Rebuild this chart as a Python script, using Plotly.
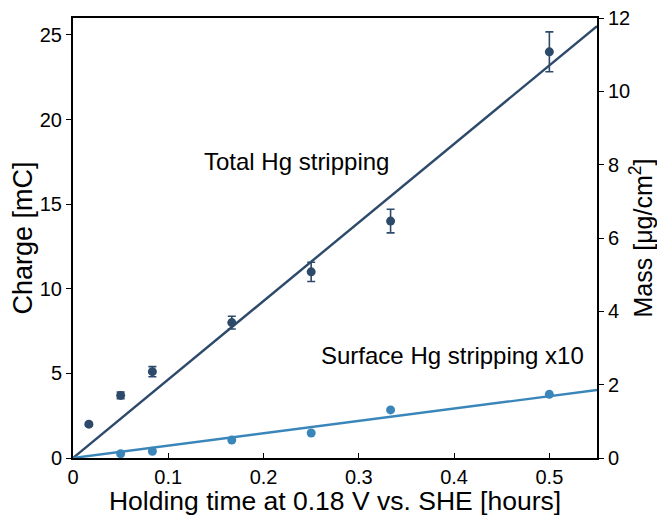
import plotly.graph_objects as go

time_h = [1/60, 0.05, 1/12, 1/6, 0.25, 1/3, 0.5]
total_charge = [2.0, 3.7, 5.1, 8.0, 11.0, 14.0, 24.0]
total_err = [0.1, 0.2, 0.3, 0.38, 0.57, 0.7, 1.18]
surf_time = [0.05, 1/12, 1/6, 0.25, 1/3, 0.5]
surface_charge = [0.25, 0.4, 1.06, 1.48, 2.84, 3.76]
total_slope = 46.4
surface_slope = 7.3
fit_x = [0, 0.55]

dark = '#2e4a6b'
light = '#3a86ba'
font = 'Liberation Sans, Arial, sans-serif'

fig = go.Figure()
fig.add_trace(go.Scatter(x=fit_x, y=[total_slope * v for v in fit_x], mode='lines',
                         line=dict(color=dark, width=2.4), showlegend=False, cliponaxis=False))
fig.add_trace(go.Scatter(x=fit_x, y=[surface_slope * v for v in fit_x], mode='lines',
                         line=dict(color=light, width=2.4), showlegend=False, cliponaxis=False))
fig.add_trace(go.Scatter(x=time_h, y=total_charge, mode='markers',
                         marker=dict(color=dark, size=9),
                         error_y=dict(type='data', array=total_err, color=dark, thickness=1.6, width=4),
                         showlegend=False))
fig.add_trace(go.Scatter(x=surf_time, y=surface_charge, mode='markers',
                         marker=dict(color=light, size=9), showlegend=False))
# invisible trace for right axis
fig.add_trace(go.Scatter(x=[0], y=[0], yaxis='y2', mode='markers',
                         marker=dict(opacity=0), showlegend=False, hoverinfo='skip'))

fig.add_annotation(x=0.2346, y=17.5, text='Total Hg stripping', showarrow=False,
                   font=dict(size=24, color='black', family=font))
fig.add_annotation(x=0.398, y=6.03, text='Surface Hg stripping x10', showarrow=False,
                   font=dict(size=24, color='black', family=font))

fig.update_layout(
    width=657, height=508,
    margin=dict(l=65, r=68, t=10, b=58),
    plot_bgcolor='white', paper_bgcolor='white',
    font=dict(family=font, color='black', size=20),
    xaxis=dict(range=[0, 0.55], tickvals=[0, 0.1, 0.2, 0.3, 0.4, 0.5],
               ticktext=['0', '0.1', '0.2', '0.3', '0.4', '0.5'],
               ticks='inside', ticklen=5, tickwidth=1, tickcolor='black',
               showline=True, linecolor='black', linewidth=2, mirror=True,
               showgrid=False, zeroline=False, automargin=False,
               title=dict(text='Holding time at 0.18 V vs. SHE [hours]', font=dict(size=26.5), standoff=3)),
    yaxis=dict(range=[0, 26], tickvals=[0, 5, 10, 15, 20, 25],
               ticks='outside', ticklen=5, tickwidth=1, tickcolor='black',
               showline=True, linecolor='black', linewidth=2, ticklabeloverflow='allow',
               showgrid=False, zeroline=False, automargin=False,
               title=dict(text='Charge [mC]', font=dict(size=27), standoff=6)),
    yaxis2=dict(range=[0, 12], tickvals=[0, 2, 4, 6, 8, 10, 12], overlaying='y', side='right',
                ticks='outside', ticklen=5, tickwidth=1, tickcolor='black',
                showline=True, linecolor='black', linewidth=2, ticklabeloverflow='allow',
                showgrid=False, zeroline=False, automargin=False,
                title=dict(text='Mass [μg/cm<sup>2</sup>]', font=dict(size=25), standoff=5)),
)

fig.write_html('out.html')
